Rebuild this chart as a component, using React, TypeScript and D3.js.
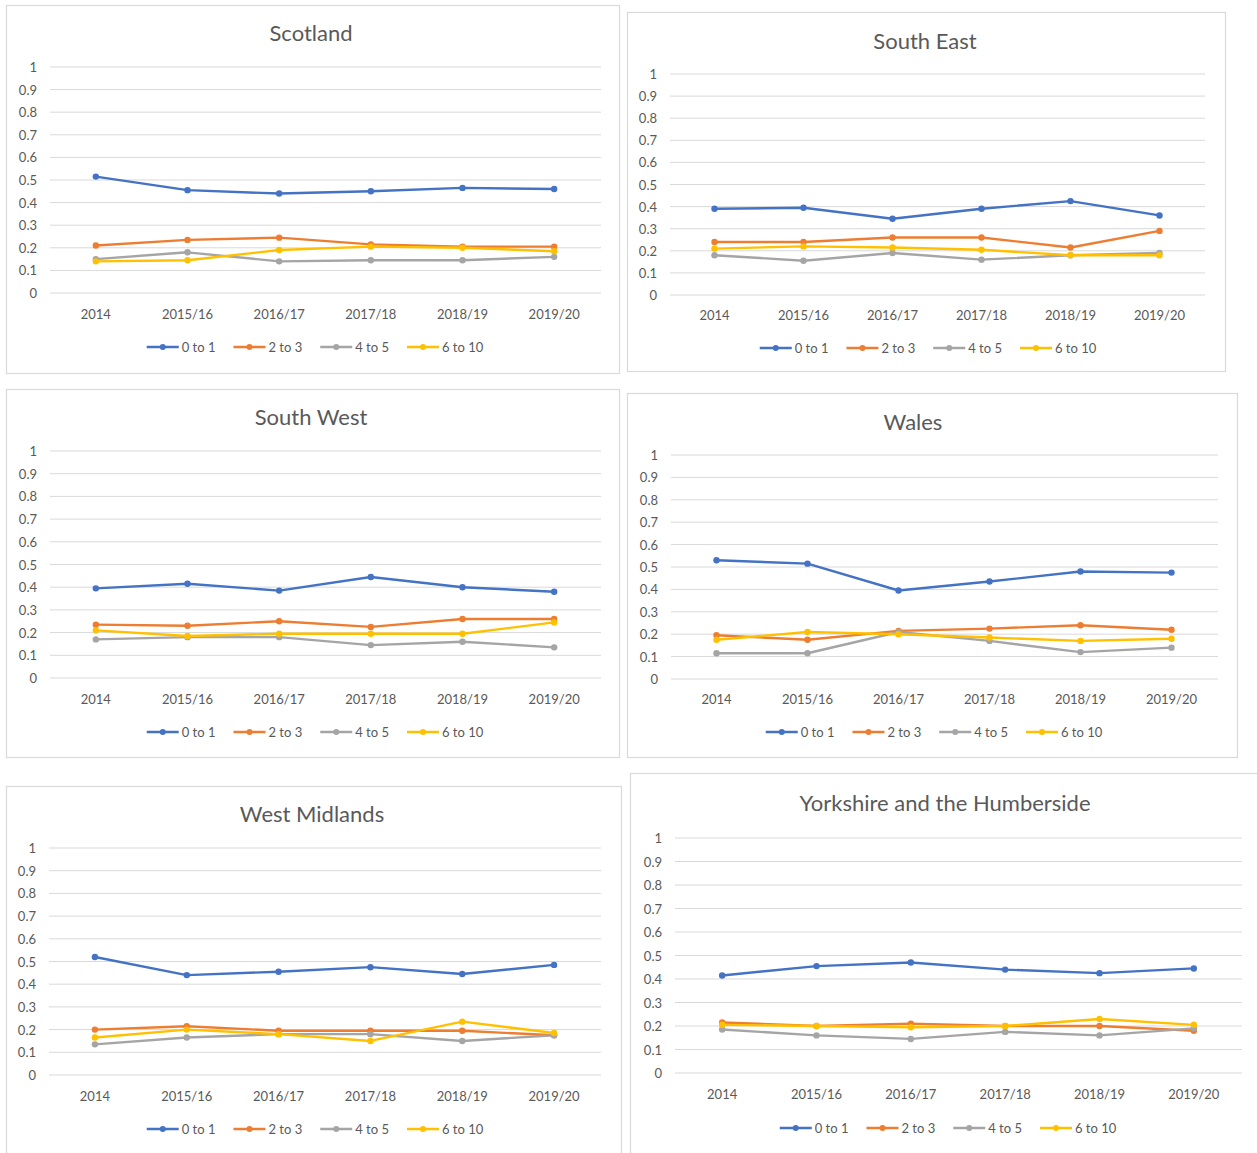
import React, { useEffect, useRef } from "react";
import * as d3 from "d3";

// Categories and series labels
const years = ["2014", "2015/16", "2016/17", "2017/18", "2018/19", "2019/20"];
const bands = ["0 to 1", "2 to 3", "4 to 5", "6 to 10"];
const bandColors = ["#4472C4", "#ED7D31", "#A5A5A5", "#FFC000"];
const yTickValues = [0, 0.1, 0.2, 0.3, 0.4, 0.5, 0.6, 0.7, 0.8, 0.9, 1];

// Series values per region, one row per band (0 to 1, 2 to 3, 4 to 5, 6 to 10)
const scotland = [
  [0.515, 0.455, 0.44, 0.45, 0.465, 0.46],
  [0.21, 0.235, 0.245, 0.215, 0.205, 0.205],
  [0.15, 0.18, 0.14, 0.145, 0.145, 0.16],
  [0.14, 0.145, 0.19, 0.205, 0.2, 0.185],
];
const southEast = [
  [0.39, 0.395, 0.345, 0.39, 0.425, 0.36],
  [0.24, 0.24, 0.26, 0.26, 0.215, 0.29],
  [0.18, 0.155, 0.19, 0.16, 0.18, 0.19],
  [0.21, 0.22, 0.215, 0.205, 0.18, 0.18],
];
const southWest = [
  [0.395, 0.415, 0.385, 0.445, 0.4, 0.38],
  [0.235, 0.23, 0.25, 0.225, 0.26, 0.26],
  [0.17, 0.18, 0.18, 0.145, 0.16, 0.135],
  [0.21, 0.185, 0.195, 0.195, 0.195, 0.245],
];
const wales = [
  [0.53, 0.515, 0.395, 0.435, 0.48, 0.475],
  [0.195, 0.175, 0.215, 0.225, 0.24, 0.22],
  [0.115, 0.115, 0.21, 0.17, 0.12, 0.14],
  [0.175, 0.21, 0.2, 0.185, 0.17, 0.18],
];
const westMidlands = [
  [0.52, 0.44, 0.455, 0.475, 0.445, 0.485],
  [0.2, 0.215, 0.195, 0.195, 0.195, 0.175],
  [0.135, 0.165, 0.18, 0.18, 0.15, 0.175],
  [0.165, 0.2, 0.18, 0.15, 0.235, 0.185],
];
const yorkshire = [
  [0.415, 0.455, 0.47, 0.44, 0.425, 0.445],
  [0.215, 0.2, 0.21, 0.2, 0.2, 0.18],
  [0.185, 0.16, 0.145, 0.175, 0.16, 0.19],
  [0.205, 0.2, 0.195, 0.2, 0.23, 0.205],
];

const regionTitles = [
  "Scotland",
  "South East",
  "South West",
  "Wales",
  "West Midlands",
  "Yorkshire and the Humberside",
];
const regionSeries = [scotland, southEast, southWest, wales, westMidlands, yorkshire];

// Panel placement on the page
const panelLayout = [
  { fx: 6, fy: 5, fw: 613, fh: 368, left: 50, right: 600, top: 67, bottom: 293, titleX: 311, titleY: 32, labelY: 314, legendX: 315, legendY: 347 },
  { fx: 627, fy: 12, fw: 598, fh: 359, left: 670, right: 1204, top: 74, bottom: 295, titleX: 925, titleY: 40, labelY: 315, legendX: 928, legendY: 348 },
  { fx: 6, fy: 389, fw: 613, fh: 368, left: 50, right: 600, top: 451, bottom: 678, titleX: 311, titleY: 416, labelY: 699, legendX: 315, legendY: 732 },
  { fx: 627, fy: 393, fw: 610, fh: 364, left: 671, right: 1217, top: 455, bottom: 679, titleX: 913, titleY: 421, labelY: 699, legendX: 934, legendY: 732 },
  { fx: 6, fy: 786, fw: 615, fh: 390, left: 49, right: 600, top: 848, bottom: 1075, titleX: 312, titleY: 813, labelY: 1096, legendX: 315, legendY: 1129 },
  { fx: 630, fy: 773, fw: 640, fh: 400, left: 675, right: 1241, top: 838, bottom: 1073, titleX: 945, titleY: 802, labelY: 1094, legendX: 948, legendY: 1128 },
];

const FONT = "Lato, 'Open Sans', sans-serif";
const TEXT = "#595959";
const GRID = "#D9D9D9";

export default function App() {
  const ref = useRef<SVGSVGElement | null>(null);

  useEffect(() => {
    const svg = d3.select(ref.current);
    svg.selectAll("*").remove();
    svg.append("rect").attr("width", 1257).attr("height", 1153).attr("fill", "#fff");

    regionSeries.forEach((series, pi) => {
      const L = panelLayout[pi];
      const g = svg.append("g");

      g.append("rect")
        .attr("x", L.fx + 0.5)
        .attr("y", L.fy + 0.5)
        .attr("width", L.fw)
        .attr("height", L.fh)
        .attr("fill", "#fff")
        .attr("stroke", GRID)
        .attr("stroke-width", 1.2);

      const x = d3.scalePoint<string>().domain(years).range([L.left, L.right]).padding(0.5);
      const y = d3.scaleLinear().domain([0, 1]).range([L.bottom, L.top]);

      // title
      g.append("text")
        .attr("x", L.titleX)
        .attr("y", L.titleY)
        .attr("text-anchor", "middle")
        .attr("dominant-baseline", "central")
        .attr("font-family", FONT)
        .attr("font-size", 22)
        .attr("fill", TEXT)
        .text(regionTitles[pi]);

      // gridlines and y labels
      const yAxis = g.append("g");
      yTickValues.forEach((t) => {
        yAxis
          .append("line")
          .attr("x1", L.left)
          .attr("x2", L.right + 1)
          .attr("y1", y(t))
          .attr("y2", y(t))
          .attr("stroke", GRID)
          .attr("stroke-width", 1);
        yAxis
          .append("text")
          .attr("x", L.left - 13)
          .attr("y", y(t))
          .attr("text-anchor", "end")
          .attr("dominant-baseline", "central")
          .attr("font-family", FONT)
          .attr("font-size", 13)
          .attr("fill", TEXT)
          .text(d3.format("~g")(t));
      });

      // category labels
      years.forEach((yr) => {
        g.append("text")
          .attr("x", x(yr)!)
          .attr("y", L.labelY)
          .attr("text-anchor", "middle")
          .attr("dominant-baseline", "central")
          .attr("font-family", FONT)
          .attr("font-size", 13)
          .attr("fill", TEXT)
          .text(yr);
      });

      // series lines and markers
      const line = d3
        .line<number>()
        .x((_, i) => x(years[i])!)
        .y((v) => y(v));
      series.forEach((vals, si) => {
        g.append("path")
          .datum(vals)
          .attr("d", line)
          .attr("fill", "none")
          .attr("stroke", bandColors[si])
          .attr("stroke-width", 2.4)
          .attr("stroke-linejoin", "round")
          .attr("stroke-linecap", "round");
        g.selectAll(null)
          .data(vals)
          .enter()
          .append("circle")
          .attr("cx", (_, i) => x(years[i])!)
          .attr("cy", (v) => y(v))
          .attr("r", 3.2)
          .attr("fill", bandColors[si]);
      });

      // legend, centred under the chart
      const leg = g.append("g");
      const items = bands.map((b, i) => {
        const it = leg.append("g");
        it.append("line")
          .attr("x1", 0)
          .attr("x2", 32)
          .attr("y1", 0)
          .attr("y2", 0)
          .attr("stroke", bandColors[i])
          .attr("stroke-width", 2.4);
        it.append("circle").attr("cx", 16).attr("cy", 0).attr("r", 3).attr("fill", bandColors[i]);
        const t = it
          .append("text")
          .attr("x", 35)
          .attr("y", 0)
          .attr("dominant-baseline", "central")
          .attr("font-family", FONT)
          .attr("font-size", 13)
          .attr("fill", TEXT)
          .text(b);
        const w = 35 + (t.node() as SVGTextElement).getComputedTextLength();
        return { it, w };
      });
      const gap = 18;
      const total = d3.sum(items, (d) => d.w) + gap * (items.length - 1);
      let cx = L.legendX - total / 2;
      items.forEach((d) => {
        d.it.attr("transform", `translate(${cx},${L.legendY})`);
        cx += d.w + gap;
      });
    });
  }, []);

  return (
    <svg
      ref={ref}
      width={1257}
      height={1153}
      style={{ position: "absolute", left: 0, top: 0, display: "block" }}
    />
  );
}
